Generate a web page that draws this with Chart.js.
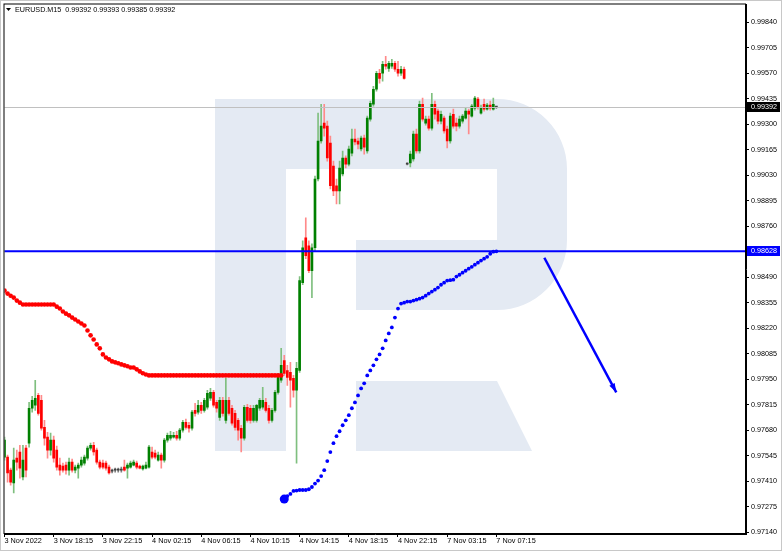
<!DOCTYPE html>
<html>
<head>
<meta charset="utf-8">
<title>EURUSD M15</title>
<script src="https://cdn.jsdelivr.net/npm/chart.js@4.4.0/dist/chart.umd.min.js"></script>
<style>
  html, body { margin: 0; padding: 0; background: #fff; }
  canvas { display: block; }
</style>
</head>
<body>
<canvas id="priceChart" width="782" height="551"></canvas>
<script>
// EURUSD M15, 3 Nov 2022 14:15 .. 7 Nov 2022 07:15, one bar per index
const symbolTitle = "EURUSD.M15  0.99392 0.99393 0.99385 0.99392";

const opens = [
  0.97538,0.97538,0.97469,0.97401,0.97533,0.97565,0.97433,0.97586,0.97612,0.97797,
  0.97813,0.97865,0.97839,0.97696,0.97644,0.97575,0.97628,0.97575,0.97496,0.97491,
  0.97496,0.97469,0.97512,0.97469,0.97480,0.97496,0.97506,0.97533,0.97586,0.97601,
  0.97575,0.97512,0.97506,0.97506,0.97485,0.97464,0.97469,0.97469,0.97469,0.97485,
  0.97480,0.97485,0.97496,0.97506,0.97491,0.97475,0.97480,0.97485,0.97565,0.97559,
  0.97522,0.97549,0.97522,0.97628,0.97638,0.97644,0.97654,0.97638,0.97681,0.97723,
  0.97707,0.97691,0.97786,0.97776,0.97813,0.97786,0.97802,0.97850,0.97881,0.97828,
  0.97749,0.97839,0.97733,0.97839,0.97797,0.97770,0.97733,0.97691,0.97638,0.97802,
  0.97797,0.97733,0.97733,0.97797,0.97802,0.97828,0.97797,0.97733,0.97786,0.97881,
  0.97945,0.98050,0.97997,0.97987,0.97955,0.97892,0.97997,0.98462,0.98700,0.98657,
  0.98525,0.98647,0.99011,0.99212,0.99307,0.99291,0.99201,0.99080,0.98975,0.98948,
  0.99038,0.99122,0.99090,0.99148,0.99222,0.99212,0.99170,0.99228,0.99159,0.99328,
  0.99407,0.99486,0.99571,0.99571,0.99618,0.99597,0.99608,0.99624,0.99592,0.99571,
  0.99592,0.99090,0.99096,0.99117,0.99249,0.99159,0.99407,0.99307,0.99328,0.99280,
  0.99407,0.99370,0.99317,0.99333,0.99275,0.99212,0.99354,0.99307,0.99291,0.99317,
  0.99333,0.99370,0.99344,0.99386,0.99434,0.99360,0.99407,0.99381,0.99402,0.99381,
  0.99392
];
const highs = [
  0.97644,0.97549,0.97480,0.97586,0.97575,0.97601,0.97601,0.97601,0.97828,0.97860,
  0.97945,0.97876,0.97865,0.97733,0.97670,0.97665,0.97649,0.97596,0.97533,0.97506,
  0.97512,0.97533,0.97528,0.97496,0.97506,0.97538,0.97549,0.97596,0.97612,0.97617,
  0.97586,0.97522,0.97522,0.97517,0.97496,0.97475,0.97480,0.97480,0.97485,0.97522,
  0.97506,0.97517,0.97522,0.97517,0.97496,0.97496,0.97512,0.97601,0.97591,0.97575,
  0.97565,0.97559,0.97638,0.97665,0.97675,0.97670,0.97675,0.97691,0.97733,0.97739,
  0.97723,0.97786,0.97823,0.97839,0.97828,0.97850,0.97892,0.97902,0.97892,0.97839,
  0.97855,0.97855,0.97955,0.97855,0.97813,0.97786,0.97744,0.97707,0.97813,0.97818,
  0.97813,0.97813,0.97818,0.97850,0.97908,0.97850,0.97813,0.97797,0.97892,0.97982,
  0.98114,0.98077,0.98024,0.98040,0.97971,0.98040,0.98494,0.98684,0.98805,0.98684,
  0.98668,0.99027,0.99360,0.99407,0.99407,0.99317,0.99238,0.99106,0.99011,0.99106,
  0.99159,0.99133,0.99185,0.99275,0.99275,0.99228,0.99238,0.99243,0.99344,0.99423,
  0.99502,0.99581,0.99592,0.99634,0.99661,0.99634,0.99645,0.99634,0.99634,0.99608,
  0.99603,0.99096,0.99159,0.99265,0.99275,0.99423,0.99439,0.99344,0.99344,0.99465,
  0.99423,0.99381,0.99370,0.99344,0.99291,0.99360,0.99381,0.99333,0.99344,0.99354,
  0.99386,0.99381,0.99407,0.99449,0.99444,0.99402,0.99434,0.99412,0.99423,0.99439,
  0.99393
];
const lows = [
  0.97522,0.97406,0.97390,0.97348,0.97469,0.97427,0.97417,0.97433,0.97591,0.97776,
  0.97786,0.97760,0.97681,0.97601,0.97533,0.97549,0.97512,0.97469,0.97443,0.97459,
  0.97448,0.97443,0.97459,0.97454,0.97427,0.97485,0.97496,0.97522,0.97575,0.97549,
  0.97501,0.97475,0.97475,0.97469,0.97448,0.97454,0.97459,0.97459,0.97459,0.97464,
  0.97427,0.97480,0.97491,0.97475,0.97475,0.97469,0.97475,0.97480,0.97528,0.97528,
  0.97517,0.97480,0.97512,0.97617,0.97628,0.97638,0.97628,0.97628,0.97670,0.97686,
  0.97670,0.97681,0.97755,0.97765,0.97770,0.97776,0.97792,0.97839,0.97802,0.97776,
  0.97733,0.97755,0.97718,0.97760,0.97707,0.97681,0.97628,0.97565,0.97628,0.97723,
  0.97718,0.97723,0.97723,0.97786,0.97792,0.97776,0.97718,0.97723,0.97776,0.97871,
  0.97934,0.97971,0.97918,0.97802,0.97855,0.97506,0.97987,0.98451,0.98589,0.98515,
  0.98383,0.98631,0.99001,0.99201,0.99238,0.99106,0.98959,0.98922,0.98879,0.98879,
  0.99027,0.99069,0.99080,0.99133,0.99191,0.99170,0.99159,0.99143,0.99148,0.99317,
  0.99397,0.99476,0.99518,0.99529,0.99592,0.99581,0.99597,0.99581,0.99555,0.99560,
  0.99539,0.99085,0.99075,0.99106,0.99148,0.99148,0.99317,0.99296,0.99270,0.99270,
  0.99328,0.99302,0.99302,0.99254,0.99175,0.99201,0.99280,0.99265,0.99280,0.99307,
  0.99328,0.99249,0.99338,0.99375,0.99381,0.99354,0.99370,0.99375,0.99375,0.99375,
  0.99385
];
const closes = [
  0.97628,0.97454,0.97406,0.97522,0.97512,0.97480,0.97522,0.97469,0.97797,0.97839,
  0.97850,0.97770,0.97691,0.97638,0.97575,0.97628,0.97533,0.97485,0.97469,0.97469,
  0.97469,0.97512,0.97469,0.97485,0.97496,0.97522,0.97538,0.97586,0.97601,0.97565,
  0.97512,0.97485,0.97485,0.97480,0.97454,0.97464,0.97469,0.97469,0.97469,0.97469,
  0.97496,0.97506,0.97512,0.97485,0.97480,0.97491,0.97496,0.97591,0.97538,0.97538,
  0.97549,0.97522,0.97628,0.97654,0.97654,0.97654,0.97638,0.97681,0.97723,0.97696,
  0.97691,0.97776,0.97770,0.97813,0.97786,0.97839,0.97876,0.97881,0.97813,0.97797,
  0.97839,0.97770,0.97839,0.97770,0.97718,0.97696,0.97681,0.97638,0.97802,0.97733,
  0.97733,0.97797,0.97813,0.97839,0.97839,0.97786,0.97733,0.97786,0.97881,0.97960,
  0.98024,0.97982,0.97960,0.97945,0.97892,0.98008,0.98473,0.98647,0.98605,0.98525,
  0.98647,0.99011,0.99212,0.99291,0.99280,0.99122,0.98975,0.98948,0.98948,0.99069,
  0.99122,0.99090,0.99170,0.99222,0.99207,0.99196,0.99228,0.99180,0.99333,0.99412,
  0.99486,0.99571,0.99544,0.99618,0.99608,0.99624,0.99624,0.99592,0.99571,0.99592,
  0.99544,0.99090,0.99143,0.99249,0.99159,0.99407,0.99328,0.99328,0.99280,0.99407,
  0.99354,0.99317,0.99354,0.99265,0.99212,0.99344,0.99291,0.99291,0.99328,0.99344,
  0.99370,0.99354,0.99397,0.99439,0.99391,0.99386,0.99381,0.99402,0.99386,0.99407,
  0.99392
];

// red dotted indicator, bars 0..90
const redStart = 0;
const redDots = [
  0.98420,0.98404,0.98393,0.98383,0.98367,0.98356,0.98346,0.98346,0.98346,0.98346,
  0.98346,0.98346,0.98346,0.98346,0.98346,0.98346,0.98346,0.98335,0.98325,0.98309,
  0.98298,0.98289,0.98277,0.98267,0.98256,0.98246,0.98235,0.98209,0.98183,0.98161,
  0.98135,0.98114,0.98082,0.98066,0.98056,0.98045,0.98040,0.98035,0.98029,0.98024,
  0.98019,0.98013,0.98013,0.98003,0.97992,0.97982,0.97976,0.97971,0.97971,0.97971,
  0.97971,0.97971,0.97971,0.97971,0.97971,0.97971,0.97971,0.97971,0.97971,0.97971,
  0.97971,0.97971,0.97971,0.97971,0.97971,0.97971,0.97971,0.97971,0.97971,0.97971,
  0.97971,0.97971,0.97971,0.97971,0.97971,0.97971,0.97971,0.97971,0.97971,0.97971,
  0.97971,0.97971,0.97971,0.97971,0.97971,0.97971,0.97971,0.97971,0.97971,0.97971,
  0.97971
];
// blue dotted indicator, bars 91..160
const blueStart = 91;
const blueDots = [
  0.97316,0.97332,0.97343,0.97359,0.97361,0.97364,0.97364,0.97364,0.97368,0.97380,
  0.97398,0.97414,0.97438,0.97469,0.97517,0.97565,0.97612,0.97649,0.97675,0.97707,
  0.97733,0.97760,0.97797,0.97828,0.97865,0.97902,0.97929,0.97971,0.97997,0.98024,
  0.98056,0.98082,0.98114,0.98156,0.98193,0.98225,0.98277,0.98325,0.98351,0.98356,
  0.98362,0.98362,0.98367,0.98372,0.98377,0.98383,0.98393,0.98404,0.98415,0.98425,
  0.98436,0.98451,0.98462,0.98473,0.98475,0.98478,0.98494,0.98504,0.98515,0.98525,
  0.98536,0.98546,0.98557,0.98568,0.98579,0.98589,0.98599,0.98615,0.98626,0.98628
];

const levelLine = 0.98628;   // blue horizontal line
const bidPrice = 0.99392;    // current price line
const arrowX = [175.6, 199];          // bar index of arrow start / end
const arrowY = [0.98594, 0.97881];    // price of arrow start / end

const yTicks = [
  0.99840,0.99705,0.99570,0.99435,0.99300,0.99165,0.99030,0.98895,0.98760,0.98625,
  0.98490,0.98355,0.98220,0.98085,0.97950,0.97815,0.97680,0.97545,0.97410,0.97275,
  0.97140
];
const xTickIndex = [0, 16, 32, 48, 64, 80, 96, 112, 128, 144, 160];
const xTickLabels = [
  "3 Nov 2022", "3 Nov 18:15", "3 Nov 22:15", "4 Nov 02:15", "4 Nov 06:15",
  "4 Nov 10:15", "4 Nov 14:15", "4 Nov 18:15", "4 Nov 22:15", "7 Nov 03:15",
  "7 Nov 07:15"
];
const yMin = 0.97131, yMax = 0.99935;
const xMin = 0, xMax = 241.2;

const FONT = '"Liberation Sans", Arial, sans-serif';

const bodyColor = (i) =>
  closes[i] > opens[i] ? "#008000" : closes[i] < opens[i] ? "#ff0000" : "#404040";
const wickColor = (i) =>
  closes[i] > opens[i] ? "#7fbf7f" : closes[i] < opens[i] ? "#ff8a8a" : "#808080";

const wickData = opens.map((o, i) => ({ x: i, y: [lows[i], highs[i]] }));
const bodyData = opens.map((o, i) => ({ x: i, y: [o, closes[i]] }));
const redData = redDots.map((v, i) => ({ x: redStart + i, y: v }));
const blueData = blueDots.map((v, i) => ({ x: blueStart + i, y: v }));

// RoboForex-like "R" watermark behind the candles
const watermark = {
  id: "watermark",
  beforeDatasetsDraw(chart) {
    const ctx = chart.ctx;
    ctx.save();
    ctx.fillStyle = "rgb(228,234,243)";
    ctx.beginPath();
    ctx.rect(215, 99, 71, 352);
    ctx.moveTo(286, 99);
    ctx.lineTo(497, 99);
    ctx.arcTo(567, 99, 567, 169, 70);
    ctx.lineTo(567, 240);
    ctx.arcTo(567, 310, 497, 310, 70);
    ctx.lineTo(356, 310);
    ctx.lineTo(356, 240);
    ctx.lineTo(497, 240);
    ctx.lineTo(497, 169);
    ctx.lineTo(286, 169);
    ctx.closePath();
    ctx.moveTo(356, 381);
    ctx.lineTo(497, 381);
    ctx.lineTo(532, 451);
    ctx.lineTo(356, 451);
    ctx.closePath();
    ctx.fill();
    ctx.restore();
  },
};

const overlay = {
  id: "overlay",
  afterDatasetsDraw(chart) {
    const { ctx, chartArea: a, scales } = chart;
    const y = scales.y, x = scales.x;
    ctx.save();
    // current price line
    const yb = Math.round(y.getPixelForValue(bidPrice)) + 0.5;
    ctx.strokeStyle = "#c0c0c0";
    ctx.lineWidth = 1;
    ctx.beginPath();
    ctx.moveTo(a.left, yb);
    ctx.lineTo(a.right, yb);
    ctx.stroke();
    // blue level
    const yl = y.getPixelForValue(levelLine);
    ctx.strokeStyle = "#0000ff";
    ctx.lineWidth = 2;
    ctx.beginPath();
    ctx.moveTo(a.left, yl);
    ctx.lineTo(a.right, yl);
    ctx.stroke();
    // arrow head
    const x0 = x.getPixelForValue(arrowX[0]), y0 = y.getPixelForValue(arrowY[0]);
    const x1 = x.getPixelForValue(arrowX[1]), y1 = y.getPixelForValue(arrowY[1]);
    const ang = Math.atan2(y1 - y0, x1 - x0);
    ctx.fillStyle = "#0000ff";
    ctx.beginPath();
    ctx.moveTo(x1, y1);
    ctx.lineTo(x1 - 9 * Math.cos(ang) + 3 * Math.sin(ang), y1 - 9 * Math.sin(ang) - 3 * Math.cos(ang));
    ctx.lineTo(x1 - 9 * Math.cos(ang) - 3 * Math.sin(ang), y1 - 9 * Math.sin(ang) + 3 * Math.cos(ang));
    ctx.closePath();
    ctx.fill();
    ctx.restore();
  },
  afterDraw(chart) {
    const { ctx, chartArea: a, scales } = chart;
    const y = scales.y;
    ctx.save();
    // frame
    ctx.strokeStyle = "#000";
    ctx.lineWidth = 1;
    ctx.strokeRect(a.left - 0.5, a.top - 0.5, a.right - a.left, a.bottom - a.top);
    ctx.strokeStyle = "#c8c8c8";
    ctx.strokeRect(0.5, 0.5, chart.width - 1, chart.height - 1);
    // price boxes on the axis
    ctx.font = "7.2px " + FONT;
    ctx.textBaseline = "middle";
    ctx.textAlign = "left";
    const boxes = [
      [bidPrice, "#000000"],
      [levelLine, "#0000ff"],
    ];
    boxes.forEach(([v, c]) => {
      const py = Math.round(y.getPixelForValue(v));
      ctx.fillStyle = c;
      ctx.fillRect(a.right + 1, py - 5, 33, 10);
      ctx.fillStyle = "#fff";
      ctx.fillText(v.toFixed(5), a.right + 5, py + 0.5);
    });
    // title
    ctx.fillStyle = "#000";
    ctx.beginPath();
    ctx.moveTo(6, 8);
    ctx.lineTo(11, 8);
    ctx.lineTo(8.5, 11);
    ctx.closePath();
    ctx.fill();
    ctx.font = "7.2px " + FONT;
    ctx.fillText(symbolTitle, 15, 10);
    ctx.restore();
  },
};

new Chart(document.getElementById("priceChart"), {
  type: "bar",
  data: {
    datasets: [
      {
        type: "line",
        data: redData,
        showLine: false,
        pointRadius: 2.3,
        pointBorderWidth: 0,
        pointBackgroundColor: "#ff0000",
        order: 1,
      },
      {
        type: "line",
        data: blueData,
        showLine: false,
        pointRadius: (c) => (c.dataIndex === 0 ? 4.5 : 1.9),
        pointBorderWidth: 0,
        pointBackgroundColor: "#0000ff",
        order: 1,
      },
      {
        type: "line",
        data: [
          { x: arrowX[0], y: arrowY[0] },
          { x: arrowX[1], y: arrowY[1] },
        ],
        borderColor: "#0000ff",
        borderWidth: 2.5,
        pointRadius: 0,
        order: 0,
      },
      {
        data: bodyData,
        backgroundColor: bodyData.map((d, i) => bodyColor(i)),
        barThickness: 2,
        minBarLength: 1,
        grouped: false,
        order: 3,
      },
      {
        data: wickData,
        backgroundColor: wickData.map((d, i) => wickColor(i)),
        barThickness: 1,
        grouped: false,
        order: 4,
      },
    ],
  },
  options: {
    responsive: false,
    animation: false,
    layout: { padding: { left: 3, top: 3, right: 0, bottom: 0 } },
    plugins: { legend: { display: false }, tooltip: { enabled: false } },
    scales: {
      x: {
        type: "linear",
        offset: false,
        min: xMin,
        max: xMax,
        afterBuildTicks: (s) => {
          s.ticks = xTickIndex.map((v) => ({ value: v }));
        },
        afterFit: (s) => {
          s.height = 17;
          s.paddingLeft = 0;
          s.paddingRight = 0;
        },
        grid: { offset: false, drawOnChartArea: false, tickLength: 3, color: "#000" },
        border: { display: true, color: "#000" },
        ticks: {
          autoSkip: false,
          maxRotation: 0,
          align: "start",
          padding: 0,
          color: "#000",
          font: { family: FONT, size: 7.3 },
          callback: (v) => xTickLabels[xTickIndex.indexOf(v)],
        },
      },
      y: {
        type: "linear",
        position: "right",
        min: yMin,
        max: yMax,
        afterBuildTicks: (s) => {
          s.ticks = yTicks.map((v) => ({ value: v }));
        },
        afterFit: (s) => {
          s.width = 36;
          s.paddingTop = 0;
          s.paddingBottom = 0;
        },
        grid: { drawOnChartArea: false, tickLength: 3, color: "#000" },
        border: { display: true, color: "#000" },
        ticks: {
          padding: 2,
          color: "#000",
          font: { family: FONT, size: 7.2 },
          callback: (v) => v.toFixed(5),
        },
      },
    },
  },
  plugins: [watermark, overlay],
});
</script>
</body>
</html>
